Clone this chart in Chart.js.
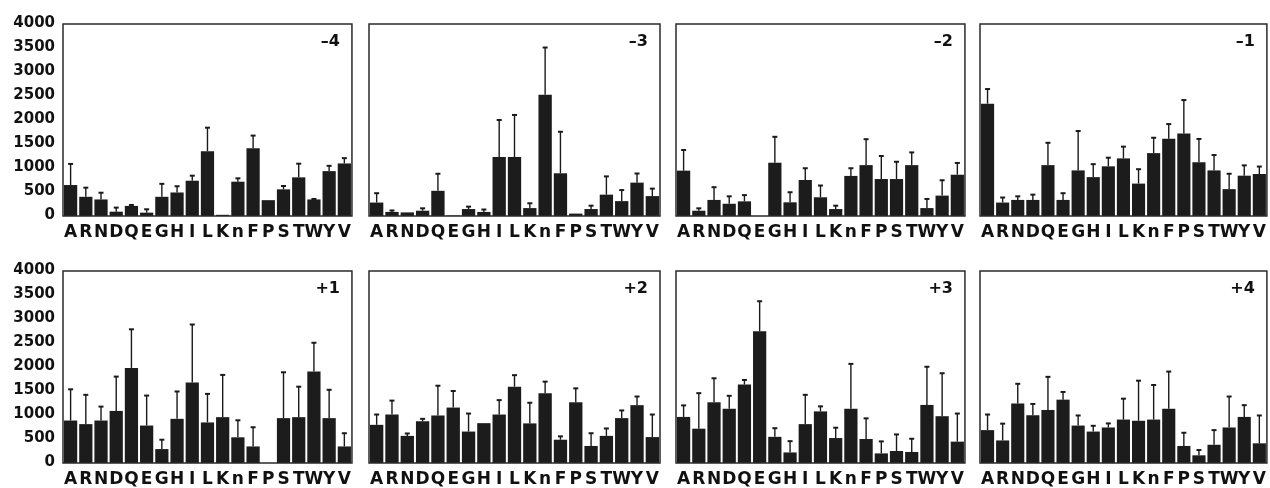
<!DOCTYPE html>
<html><head>
<meta charset="UTF-8">
<title>Residue preference by position</title>
<style>
  body { margin: 0; background: #fff; }
  #wrap { position: relative; width: 1270px; height: 488px; overflow: hidden; }
  #wrap canvas { position: absolute; }
</style>
<script src="https://cdn.jsdelivr.net/npm/chart.js"></script>
</head>
<body>
<div id="wrap"></div>
<script>
  // categories and axis
  const residues = ['A','R','N','D','Q','E','G','H','I','L','K','n','F','P','S','T','W','Y','V'];
  const yMax = 4000;
  const yStep = 500;
  const positions = ['\u20134', '\u20133', '\u20132', '\u20131', '+1', '+2', '+3', '+4'];

  // bar heights and standard deviations, one pair per position
  const meanM4 = [645, 400, 345, 90, 210, 70, 400, 490, 735, 1350, 25, 715, 1410, 330, 555, 805, 345, 935, 1095];
  const sdM4   = [440, 190, 140, 85, 20, 70, 270, 130, 105, 490, 0, 70, 265, 0, 70, 285, 10, 110, 110];
  const meanM3 = [280, 85, 75, 110, 525, 10, 145, 85, 1230, 1230, 165, 2525, 890, 50, 145, 445, 310, 695, 415];
  const sdM3   = [195, 30, 0, 50, 355, 0, 50, 50, 770, 875, 100, 985, 865, 0, 70, 380, 230, 190, 155];
  const meanM2 = [945, 110, 335, 255, 305, 0, 1110, 285, 750, 390, 145, 835, 1060, 770, 770, 1060, 165, 425, 860];
  const sdM2   = [430, 50, 265, 155, 130, 0, 540, 210, 245, 245, 70, 160, 540, 480, 360, 265, 190, 320, 245];
  const meanM1 = [2340, 280, 335, 335, 1060, 335, 950, 810, 1035, 1200, 675, 1310, 1610, 1720, 1120, 950, 560, 840, 875];
  const sdM1   = [305, 105, 75, 110, 465, 140, 820, 270, 180, 245, 300, 320, 305, 695, 485, 320, 320, 215, 155];
  const meanP1 = [885, 810, 885, 1085, 1980, 780, 290, 920, 1675, 845, 955, 535, 345, 0, 935, 955, 1905, 935, 345];
  const sdP1   = [650, 610, 290, 715, 805, 625, 195, 570, 1210, 595, 880, 355, 400, 0, 955, 635, 600, 590, 275];
  const meanP2 = [795, 1010, 565, 870, 990, 1155, 655, 830, 1010, 1590, 825, 1455, 485, 1265, 355, 565, 935, 1205, 540];
  const sdP2   = [215, 290, 50, 50, 620, 345, 375, 0, 300, 240, 430, 240, 70, 290, 265, 155, 160, 180, 470];
  const meanP3 = [960, 715, 1265, 1130, 1635, 2745, 545, 220, 810, 1075, 520, 1130, 500, 200, 250, 230, 1210, 975, 445];
  const sdP3   = [240, 740, 500, 270, 95, 625, 180, 235, 610, 105, 215, 935, 430, 250, 345, 275, 795, 895, 585];
  const meanP4 = [685, 470, 1240, 995, 1105, 1320, 780, 655, 740, 905, 880, 905, 1130, 355, 160, 380, 740, 960, 410];
  const sdP4   = [325, 350, 410, 235, 690, 160, 210, 120, 85, 435, 835, 720, 775, 275, 110, 305, 645, 245, 580];

  const means = [meanM4, meanM3, meanM2, meanM1, meanP1, meanP2, meanP3, meanP4];
  const sds = [sdM4, sdM3, sdM2, sdM1, sdP1, sdP2, sdP3, sdP4];

  // panel plot areas on the page
  const colLeft = [63, 369, 676, 980];
  const colRight = [354, 662, 967, 1269];
  const rowTop = [24, 271];
  const rowBottom = [216, 463];

  Chart.defaults.font.family = '"DejaVu Sans", Arial, sans-serif';
  Chart.defaults.color = '#111';

  // error bars, frame and position label
  const panelPlugin = {
    id: 'panel',
    afterDatasetsDraw(chart, args, opts) {
      const ctx = chart.ctx;
      const a = chart.chartArea;
      const y = chart.scales.y;
      const meta = chart.getDatasetMeta(0);
      const vals = chart.data.datasets[0].data;
      ctx.save();
      ctx.strokeStyle = '#1a1a1a';
      ctx.lineWidth = 1.4;
      opts.sd.forEach((s, i) => {
        if (!s) return;
        const bar = meta.data[i];
        const yTop = y.getPixelForValue(vals[i] + s);
        ctx.beginPath();
        ctx.moveTo(bar.x, bar.y);
        ctx.lineTo(bar.x, yTop);
        ctx.stroke();
        ctx.lineWidth = 2;
        ctx.beginPath();
        ctx.moveTo(bar.x - 2.5, yTop);
        ctx.lineTo(bar.x + 2.5, yTop);
        ctx.stroke();
        ctx.lineWidth = 1.4;
      });
      ctx.strokeStyle = '#2a2a2a';
      ctx.lineWidth = 1.5;
      ctx.strokeRect(a.left, a.top, a.right - a.left, a.bottom - a.top);
      ctx.fillStyle = '#111';
      ctx.font = 'bold 16px "DejaVu Sans"';
      ctx.textAlign = 'right';
      ctx.textBaseline = 'middle';
      ctx.fillText(opts.label, a.right - 12, a.top + 18);
      ctx.restore();
    }
  };

  const wrap = document.getElementById('wrap');
  const padTop = 22, xh = 25;

  positions.forEach((label, p) => {
    const row = Math.floor(p / 4), col = p % 4;
    const yw = col === 0 ? 63 : 10;
    const areaW = colRight[col] - colLeft[col];
    const areaH = rowBottom[row] - rowTop[row];
    const canvas = document.createElement('canvas');
    canvas.width = yw + areaW + 3;
    canvas.height = padTop + areaH + xh;
    canvas.style.left = (colLeft[col] - yw) + 'px';
    canvas.style.top = (rowTop[row] - padTop) + 'px';
    wrap.appendChild(canvas);

    new Chart(canvas, {
      type: 'bar',
      data: {
        labels: residues,
        datasets: [{
          data: means[p],
          backgroundColor: '#1c1c1c',
          borderWidth: 0,
          barPercentage: 0.87,
          categoryPercentage: 1.0
        }]
      },
      options: {
        responsive: false,
        animation: false,
        layout: { padding: { top: padTop, right: 3, left: 0, bottom: 0 } },
        plugins: {
          legend: { display: false },
          tooltip: { enabled: false },
          panel: { label: label, sd: sds[p] }
        },
        scales: {
          x: {
            grid: { display: false, drawTicks: false },
            border: { display: false },
            ticks: {
              autoSkip: false,
              maxRotation: 0,
              padding: 6,
              font: { size: 17, weight: 'bold' }
            },
            afterFit: s => { s.height = xh; }
          },
          y: {
            min: 0,
            max: yMax,
            grid: { display: false, drawTicks: false },
            border: { display: false },
            ticks: {
              display: col === 0,
              stepSize: yStep,
              padding: 8,
              labelOffset: -1,
              font: { size: 15, weight: 'bold' },
              callback: v => String(v)
            },
            afterFit: s => { s.width = yw; }
          }
        }
      },
      plugins: [panelPlugin]
    });
  });
</script>
</body></html>
